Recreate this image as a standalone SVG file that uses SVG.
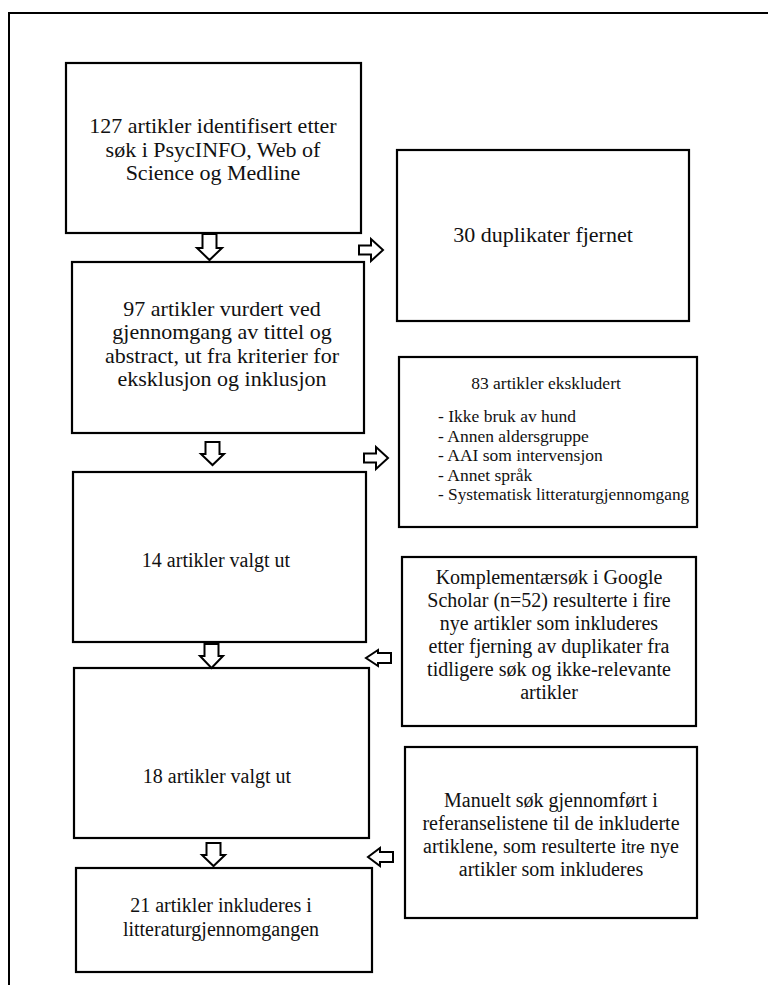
<svg xmlns="http://www.w3.org/2000/svg" width="768" height="985" viewBox="0 0 768 985">
<style>
.box{fill:#fff;stroke:#000;stroke-width:2.2}
.arr{fill:#fff;stroke:#000;stroke-width:2;stroke-linejoin:miter}
.frame{fill:none;stroke:#000;stroke-width:2}
text{font-family:"Liberation Serif","Times New Roman",serif;fill:#111}
.t22{font-size:22px;text-anchor:middle}
.t20{font-size:20px;text-anchor:middle}
.li{font-size:17.5px}
</style>
<rect width="768" height="985" fill="#fff"/>
<path class="frame" d="M9,985 V13 H768"/>
<g id="n1">
<rect class="box" x="66" y="63" width="295" height="170"/>
<text class="t22" x="213" y="133">127 artikler identifisert etter</text>
<text class="t22" x="213" y="157">søk i PsycINFO, Web of</text>
<text class="t22" x="213" y="180">Science og Medline</text>
</g>
<g id="n2">
<rect class="box" x="397" y="150" width="292" height="171"/>
<text class="t22" x="543" y="242">30 duplikater fjernet</text>
</g>
<g id="n3">
<rect class="box" x="72" y="262" width="292" height="171"/>
<text class="t22" x="222" y="316">97 artikler vurdert ved</text>
<text class="t22" x="222" y="339">gjennomgang av tittel og</text>
<text class="t22" x="222" y="363">abstract, ut fra kriterier for</text>
<text class="t22" x="222" y="386">eksklusjon og inklusjon</text>
</g>
<g id="n4">
<rect class="box" x="399" y="357" width="298" height="170"/>
<text x="546" y="389" style="font-size:17.5px;text-anchor:middle">83 artikler ekskludert</text>
<text class="li" x="438" y="422">- Ikke bruk av hund</text>
<text class="li" x="438" y="441.5">- Annen aldersgruppe</text>
<text class="li" x="438" y="461">- AAI som intervensjon</text>
<text class="li" x="438" y="480.5">- Annet språk</text>
<text x="438" y="500" style="font-size:17.3px">- Systematisk litteraturgjennomgang</text>
</g>
<g id="n5">
<rect class="box" x="73" y="472" width="293" height="170"/>
<text class="t20" x="216" y="567">14 artikler valgt ut</text>
</g>
<g id="n6">
<rect class="box" x="402" y="557" width="294" height="169"/>
<text class="t20" x="549" y="584">Komplementærsøk i Google</text>
<text class="t20" x="549" y="607">Scholar (n=52) resulterte i fire</text>
<text class="t20" x="549" y="630">nye artikler som inkluderes</text>
<text class="t20" x="549" y="653">etter fjerning av duplikater fra</text>
<text class="t20" x="549" y="676">tidligere søk og ikke-relevante</text>
<text class="t20" x="549" y="699">artikler</text>
</g>
<g id="n7">
<rect class="box" x="74" y="668" width="295" height="170"/>
<text class="t20" x="217" y="783">18 artikler valgt ut</text>
</g>
<g id="n8">
<rect class="box" x="405" y="747" width="292" height="171"/>
<text class="t20" x="551" y="807">Manuelt søk gjennomført i</text>
<text class="t20" x="551" y="830">referanselistene til de inkluderte</text>
<text class="t20" x="551" y="853">artiklene, som resulterte i<tspan style="font-family:'Liberation Sans',Arial,sans-serif;font-size:16px">tre</tspan> nye</text>
<text class="t20" x="551" y="876">artikler som inkluderes</text>
</g>
<g id="n9">
<rect class="box" x="76" y="868" width="296" height="104"/>
<text class="t20" x="221" y="912">21 artikler inkluderes i</text>
<text class="t20" x="221" y="936">litteraturgjennomgangen</text>
</g>
<g id="connectors">
<path class="arr" d="M202.5,234 H216.5 V248 H222 L209.5,260 L197,248 H202.5 Z"/>
<path class="arr" d="M205.5,442 H219.5 V454 H224 L212.5,465 L201,454 H205.5 Z"/>
<path class="arr" d="M204.5,644 H218.5 V656 H223 L211.5,668 L200,656 H204.5 Z"/>
<path class="arr" d="M206.5,843 H220.5 V855 H225 L213.5,866 L202,855 H206.5 Z"/>
<path class="arr" d="M359,245.5 H371 V239 L383,250 L371,261 V254.5 H359 Z"/>
<path class="arr" d="M364,453.5 H376 V447 L388,458 L376,469 V462.5 H364 Z"/>
<path class="arr" d="M391,653 H378 V650 L366,658 L378,666 V663 H391 Z"/>
<path class="arr" d="M393,852 H380 V848 L368,857 L380,866 V862 H393 Z"/>
</g>
</svg>
